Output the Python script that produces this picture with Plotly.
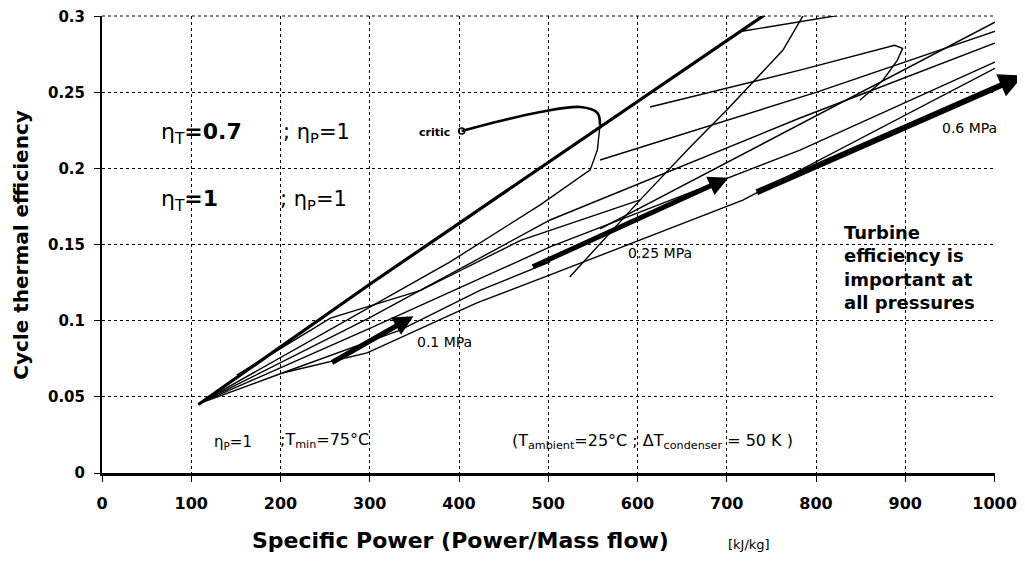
import plotly.graph_objects as go

# ---------------- data ----------------
# thick upper line
thick_x = [108, 200, 300, 400, 500, 600, 700, 745]
thick_y = [0.045, 0.083, 0.124, 0.164, 0.204, 0.244, 0.284, 0.302]

# critic (saturation) curve, thick part starting at the critical point
critic_x = [403, 446, 491, 536, 555, 558]
critic_y = [0.2246, 0.2312, 0.2371, 0.2404, 0.2365, 0.2286]

# lower saturation branch (thin), continuing the critic curve
sat_x = [558, 555, 547, 491, 390, 256, 108]
sat_y = [0.2286, 0.2122, 0.1991, 0.1761, 0.1387, 0.0941, 0.0454]

# steep curve to the top
steep_x = [524, 603, 659, 700, 763, 791]
steep_y = [0.1288, 0.1794, 0.2142, 0.2384, 0.2778, 0.3060]

# short flat line at the top
top_x = [717, 860]
top_y = [0.2902, 0.304]

# line reaching the upper right corner
corner_x = [558, 734, 1026]
corner_y = [0.1603, 0.2142, 0.304]

# hooked curve near x = 890
hook_x = [614, 782, 888, 897, 891, 875, 849]
hook_y = [0.2404, 0.2646, 0.2810, 0.2790, 0.2711, 0.2580, 0.2449]

# long nearly flat line
flat_x = [558, 800, 1017]
flat_y = [0.2056, 0.2500, 0.2935]

# fan of long lines from the common starting point
fan1_x = [108, 300, 502, 782, 1028]
fan1_y = [0.0454, 0.1020, 0.1662, 0.2332, 0.2886]
fan2_x = [108, 300, 502, 782, 1031]
fan2_y = [0.0454, 0.0950, 0.1485, 0.2121, 0.2780]
fan3_x = [108, 202, 297, 420, 502, 718, 1032]
fan3_y = [0.0454, 0.0657, 0.0789, 0.1117, 0.1301, 0.1793, 0.2755]

# short crossing lines in the lower-left part
mid1_x = [151, 256, 357, 469, 603]
mid1_y = [0.0643, 0.1017, 0.1200, 0.1528, 0.1794]
mid2_x = [202, 334, 424, 502]
mid2_y = [0.0657, 0.0939, 0.1201, 0.1387]

thin_lines = [(sat_x, sat_y), (steep_x, steep_y), (top_x, top_y),
              (corner_x, corner_y), (hook_x, hook_y), (flat_x, flat_y),
              (fan1_x, fan1_y), (fan2_x, fan2_y), (fan3_x, fan3_y),
              (mid1_x, mid1_y), (mid2_x, mid2_y)]

# arrows (tail x, tail y, head x, head y)
arrow_01 = [256, 0.072, 349, 0.103]
arrow_025 = [481, 0.135, 702, 0.194]
arrow_06 = [732, 0.184, 1032, 0.261]

x_ticks = [0, 100, 200, 300, 400, 500, 600, 700, 800, 900, 1000]
y_ticks = [0, 0.05, 0.1, 0.15, 0.2, 0.25, 0.3]
y_ticktext = ["0", "0.05", "0.1", "0.15", "0.2", "0.25", "0.3"]

FONT = "DejaVu Sans"

fig = go.Figure()

for lx, ly in thin_lines:
    fig.add_trace(go.Scatter(x=lx, y=ly, mode="lines",
                             line=dict(color="black", width=1.4), showlegend=False,
                             hoverinfo="skip"))
fig.add_trace(go.Scatter(x=thick_x, y=thick_y, mode="lines",
                         line=dict(color="black", width=3.2), showlegend=False))
fig.add_trace(go.Scatter(x=critic_x, y=critic_y, mode="lines",
                         line=dict(color="black", width=2.6, shape="spline"),
                         showlegend=False))
fig.add_trace(go.Scatter(x=[critic_x[0]], y=[critic_y[0]], mode="markers",
                         marker=dict(symbol="circle-open", size=6, color="black",
                                     line=dict(width=1.5)), showlegend=False))

for a, w in ((arrow_01, 5), (arrow_025, 5), (arrow_06, 6)):
    fig.add_annotation(x=a[2], y=a[3], ax=a[0], ay=a[1], xref="x", yref="y",
                       axref="x", ayref="y", text="", showarrow=True,
                       arrowhead=2, arrowsize=0.8, arrowwidth=w, arrowcolor="black")

def txt(x, y, s, size, xanchor="left", ref="x"):
    fig.add_annotation(x=x, y=y, xref=ref, yref=ref.replace("x", "y"), text=s,
                       showarrow=False, xanchor=xanchor, yanchor="middle",
                       align="left",
                       font=dict(family=FONT, size=size, color="black"))

txt(64, 0.2233, "η<sub>T</sub><b>=0.7</b>", 22)
txt(200, 0.2233, "; η<sub>P</sub>=1", 21)
txt(64, 0.1793, "η<sub>T</sub><b>=1</b>", 22)
txt(197, 0.1793, "; η<sub>P</sub>=1", 21)
txt(392, 0.2238, "<b>critic</b>", 11, xanchor="right")
txt(351, 0.0862, "0.1 MPa", 14)
txt(587, 0.1446, "0.25 MPa", 14)
txt(939, 0.2266, "0.6 MPa", 14)
txt(829, 0.1347, "<b>Turbine<br>efficiency is<br>important at<br>all pressures</b>", 18)
txt(123, 0.020, "η<sub>P</sub>=1", 15)
txt(197, 0.0215, ";T<sub>min</sub>=75°C", 16)
txt(457, 0.0205, "(T<sub>ambient</sub>=25°C ; ΔT<sub>condenser</sub> = 50 K )", 16)
txt(1003, 0.0087, "<b>W<sub>t</sub></b> [kJ/kg]", 16, xanchor="right")

# axis titles placed as paper annotations
fig.add_annotation(x=0.401, y=-0.147, xref="paper", yref="paper",
                   text="<b>Specific Power (Power/Mass flow)</b>", showarrow=False,
                   xanchor="center", yanchor="middle",
                   font=dict(family=FONT, size=22, color="black"))
fig.add_annotation(x=0.699, y=-0.157, xref="paper", yref="paper", text="[kJ/kg]",
                   showarrow=False, xanchor="left", yanchor="middle",
                   font=dict(family=FONT, size=13, color="black"))
fig.add_annotation(x=-0.0915, y=0.5, xref="paper", yref="paper",
                   text="<b>Cycle thermal efficiency</b>", showarrow=False,
                   textangle=-90, xanchor="center", yanchor="middle",
                   font=dict(family=FONT, size=20, color="black"))

# dotted border along the top of the plot area (the 0.3 grid line)
fig.add_shape(type="line", xref="paper", yref="paper", x0=0, x1=1, y0=1, y1=1,
              line=dict(color="black", width=1, dash="dot"), layer="below")

# the page adds an 8 px body margin, so the margins are reduced by 8 px
fig.update_layout(
    width=1025, height=567,
    margin=dict(l=94, r=38, t=8, b=102, autoexpand=False),
    paper_bgcolor="white", plot_bgcolor="white",
    font=dict(family=FONT, color="black"),
    xaxis=dict(range=[0, 1000.5], tickvals=x_ticks, showgrid=True, gridcolor="black",
               griddash="dot", gridwidth=1, showline=True, linecolor="black",
               linewidth=2.5, ticks="outside", ticklen=6, tickcolor="black",
               zeroline=False, automargin=False, ticklabelstandoff=8,
               ticklabeloverflow="allow",
               tickfont=dict(family=FONT, size=16, color="black", weight="bold")),
    yaxis=dict(range=[0, 0.3002], tickvals=y_ticks, ticktext=y_ticktext,
               showgrid=True, gridcolor="black",
               griddash="dot", gridwidth=1, showline=True, linecolor="black",
               linewidth=2, ticks="outside", ticklen=6, tickcolor="black",
               zeroline=False, automargin=False, ticklabelstandoff=6,
               ticklabeloverflow="allow",
               tickfont=dict(family=FONT, size=15, color="black", weight="bold")),
)

fig.write_html("out.html")
